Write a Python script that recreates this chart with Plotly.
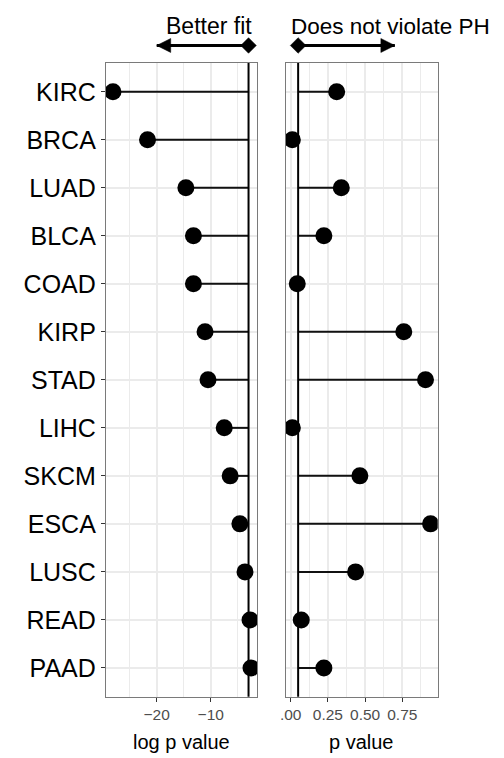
import numpy as np
import plotly.graph_objects as go

# Cancer types, top to bottom
cancers = ["KIRC", "BRCA", "LUAD", "BLCA", "COAD", "KIRP", "STAD",
           "LIHC", "SKCM", "ESCA", "LUSC", "READ", "PAAD"]
# Model fit: log p value of each cancer type
log_p = [-28.1, -21.7, -14.6, -13.2, -13.2, -11.05, -10.5,
         -7.5, -6.4, -4.6, -3.65, -2.72, -2.54]
# Proportional hazards test: p value of each cancer type
ph_p = [0.309, 0.011, 0.34, 0.223, 0.044, 0.76, 0.906,
        0.011, 0.465, 0.94, 0.436, 0.071, 0.223]

p_cutoff = 0.05
log_cutoff = float(np.log(p_cutoff))

# Direction arrows drawn above each panel (start, end)
fit_arrow = [log_cutoff, -20]
ph_arrow = [p_cutoff, 0.7]

left_ticks = [-20, -10]
right_ticks = [0, 0.25, 0.5, 0.75]
right_ticktext = [".00", "0.25", "0.50", "0.75"]

FONT = "Liberation Sans, Arial, Helvetica, sans-serif"
GRID = "#ebebeb"
BORDER = "#7a7a7a"
INK = "#111111"


def stems(values, base):
    xs, ys = [], []
    for c, v in zip(cancers, values):
        xs += [base, v, None]
        ys += [c, c, None]
    return xs, ys


fig = go.Figure()

lx, ly = stems(log_p, log_cutoff)
fig.add_trace(go.Scatter(x=lx, y=ly, mode="lines", xaxis="x", yaxis="y",
                         line=dict(color=INK, width=2), hoverinfo="skip"))
fig.add_trace(go.Scatter(x=log_p, y=cancers, mode="markers", xaxis="x", yaxis="y",
                         marker=dict(color="black", size=17)))

rx, ry = stems(ph_p, p_cutoff)
fig.add_trace(go.Scatter(x=rx, y=ry, mode="lines", xaxis="x2", yaxis="y2",
                         line=dict(color=INK, width=2), hoverinfo="skip"))
fig.add_trace(go.Scatter(x=ph_p, y=cancers, mode="markers", xaxis="x2", yaxis="y2",
                         marker=dict(color="black", size=17)))

# Arrows: diamond at the cutoff, arrowhead at the far end
for xa, arrow in (("x3", fit_arrow), ("x4", ph_arrow)):
    fig.add_trace(go.Scatter(x=arrow, y=[0.5, 0.5], mode="lines", xaxis=xa, yaxis="y3",
                             line=dict(color="black", width=3), cliponaxis=False,
                             hoverinfo="skip"))
    head = "arrow-left" if arrow[1] < arrow[0] else "arrow-right"
    fig.add_trace(go.Scatter(x=arrow, y=[0.5, 0.5], mode="markers", xaxis=xa, yaxis="y3",
                             marker=dict(color="black", symbol=[f"diamond", head],
                                         size=[12, 14], opacity=1,
                                         line=dict(width=0.5, color="black")),
                             cliponaxis=False, hoverinfo="skip"))

# Cutoff lines
fig.add_shape(type="line", xref="x", yref="y domain", x0=log_cutoff, x1=log_cutoff,
              y0=0, y1=1, line=dict(color="black", width=2), layer="above")
fig.add_shape(type="line", xref="x2", yref="y2 domain", x0=p_cutoff, x1=p_cutoff,
              y0=0, y1=1, line=dict(color="black", width=2), layer="above")

left_dom = [106 / 504, 257 / 504]
right_dom = [285.7 / 504, 437.7 / 504]
y_dom = [1 - 696.7 / 758, 1 - 63 / 758]
left_range = [-29.39, -1.43]
right_range = [-0.0336, 0.988]
cat_range = [len(cancers) - 0.4, -0.6]

xcommon = dict(ticks="outside", ticklen=4, tickwidth=1, tickcolor="#333333",
               tickfont=dict(family=FONT, size=15.5, color="#4d4d4d"),
               showline=True, mirror=True, linecolor=BORDER, linewidth=1.3,
               showgrid=True, gridcolor=GRID, gridwidth=1.5, zeroline=False,
               automargin=False, fixedrange=True)
ycommon = dict(type="category", categoryorder="array", categoryarray=cancers,
               range=cat_range, showline=True, mirror=True, linecolor=BORDER,
               linewidth=1.3, showgrid=True, gridcolor=GRID, gridwidth=1.5,
               zeroline=False, automargin=False, fixedrange=True)

fig.update_layout(
    width=504, height=758,
    margin=dict(l=0, r=0, t=0, b=0),
    paper_bgcolor="white", plot_bgcolor="white",
    showlegend=False,
    xaxis=dict(domain=left_dom, range=left_range, anchor="y", tickmode="array",
               tickvals=left_ticks,
               minor=dict(tickmode="linear", tick0=0, dtick=5, showgrid=True,
                          gridcolor=GRID, gridwidth=0.8),
               **xcommon),
    xaxis2=dict(domain=right_dom, range=right_range, anchor="y2", tickmode="array",
                tickvals=right_ticks, ticktext=right_ticktext,
                minor=dict(tickmode="linear", tick0=0, dtick=0.125, showgrid=True,
                           gridcolor=GRID, gridwidth=0.8),
                **xcommon),
    yaxis=dict(domain=y_dom, anchor="x", ticks="outside", ticklen=4, tickwidth=1,
               tickcolor="#333333", tickfont=dict(family=FONT, size=25, color="black"),
               **ycommon),
    yaxis2=dict(domain=y_dom, anchor="x2", showticklabels=False, ticks="",
                **ycommon),
    xaxis3=dict(domain=left_dom, range=left_range, anchor="y3", visible=False,
                fixedrange=True),
    xaxis4=dict(domain=right_dom, range=right_range, anchor="y3", visible=False,
                fixedrange=True),
    yaxis3=dict(domain=[0.92, 0.96], range=[0, 1], anchor="x3", visible=False,
                fixedrange=True),
)

titles = [
    ("Better fit", 209.2, 26.2, 23),
    ("Does not violate PH", 390.3, 26.2, 22.5),
    ("log p value", 181.5, 741.5, 20),
    ("p value", 361.7, 741.5, 20),
]
for text, px, py, size in titles:
    fig.add_annotation(text=text, xref="paper", yref="paper", x=px / 504, y=1 - py / 758,
                       xanchor="center", yanchor="middle", showarrow=False,
                       font=dict(family=FONT, size=size, color="black"))

fig.write_html("out.html")
